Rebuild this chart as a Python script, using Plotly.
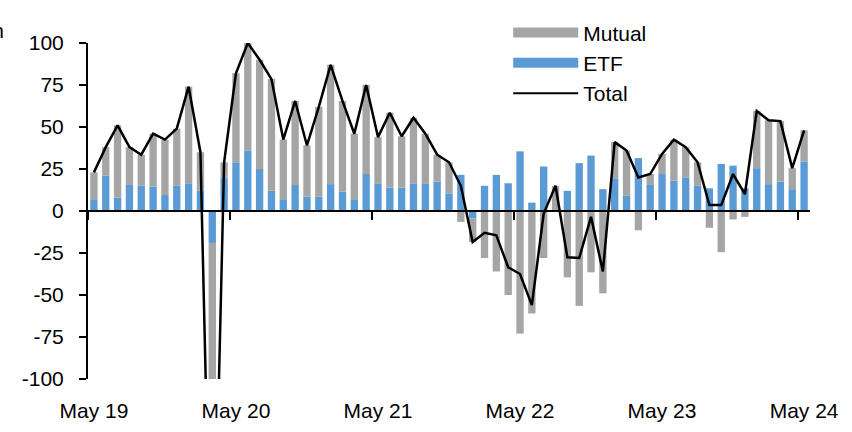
"""
Monthly fund flows: mutual funds vs ETFs, with total line ($bn)
"""

import plotly.graph_objects as go

# ==============================================================================
# DATA ($bn)
# ==============================================================================

months = ['May19', 'Jun19', 'Jul19', 'Aug19', 'Sep19', 'Oct19', 'Nov19', 'Dec19',
          'Jan20', 'Feb20', 'Mar20', 'Apr20', 'May20', 'Jun20', 'Jul20', 'Aug20',
          'Sep20', 'Oct20', 'Nov20', 'Dec20', 'Jan21', 'Feb21', 'Mar21', 'Apr21',
          'May21', 'Jun21', 'Jul21', 'Aug21', 'Sep21', 'Oct21', 'Nov21', 'Dec21',
          'Jan22', 'Feb22', 'Mar22', 'Apr22', 'May22', 'Jun22', 'Jul22', 'Aug22',
          'Sep22', 'Oct22', 'Nov22', 'Dec22', 'Jan23', 'Feb23', 'Mar23', 'Apr23',
          'May23', 'Jun23', 'Jul23', 'Aug23', 'Sep23', 'Oct23', 'Nov23', 'Dec23',
          'Jan24', 'Feb24', 'Mar24', 'Apr24', 'May24']

etf = [7, 21, 8, 15.5, 15, 14.5, 9.5, 15,
       16.5, 12, -19, 20, 29, 36, 25, 12,
       7, 15.5, 8.5, 8.5, 16, 11.5, 7, 22,
       16.5, 14, 14, 16.5, 16.5, 17.5, 10.5, 21.5,
       -4.5, 15, 21.5, 16.5, 35.5, 5, 26.5, 0.5,
       12, 28.5, 33, 13, 19.5, 9, 31.5, 15.5,
       22, 18, 20, 15, 13.5, 28, 27, 13.5,
       25.5, 16, 17.5, 13, 29.5]

mutual = [16, 17, 43, 22.5, 18.5, 31.5, 33, 34,
          57.5, 23, -251, 9, 53, 64, 65, 66.5,
          35.5, 50, 30.5, 53.5, 71, 54, 39, 53,
          27.5, 44.5, 30.5, 39, 29.5, 16, 18.5, -6.5,
          -14, -28, -36, -50, -73, -61, -28, 14.5,
          -39.5, -56.5, -36.5, -49, 21.5, 27, -11.5, 6.5,
          12, 24.5, 18, 14, -10, -24.5, -5, -3.5,
          34, 38, 36, 12.5, 18.5]

total = [23, 38, 51, 38, 33.5, 46, 42.5, 49,
         74, 35, -270, 29, 82, 100, 90, 78.5,
         42.5, 65.5, 39, 62, 87, 65.5, 46, 75,
         44, 58.5, 44.5, 55.5, 46, 33.5, 29, 15,
         -18.5, -13, -14.5, -33.5, -37.5, -56, -1.5, 15,
         -27.5, -28, -3.5, -36, 41, 36, 20, 22,
         34, 42.5, 38, 29, 3.5, 3.5, 22, 10,
         59.5, 54, 53.5, 25.5, 48]

year_labels = ['May 19', 'May 20', 'May 21', 'May 22', 'May 23', 'May 24']
y_ticks = [-100, -75, -50, -25, 0, 25, 50, 75, 100]

GRAY = '#A5A5A5'
BLUE = '#5B9BD5'
FONT = 'Liberation Sans, Arial, sans-serif'

x = list(range(len(months)))
label_pos = [i for i, m in enumerate(months) if m.startswith('May')]
boundary_pos = [p - 0.5 for p in label_pos]
x_range = [-0.5, len(months) - 0.5]

# ==============================================================================
# FIGURE
# ==============================================================================

fig = go.Figure()

fig.add_trace(go.Bar(x=x, y=etf, name='ETF', marker=dict(color=BLUE, line_width=0),
                     showlegend=False))
fig.add_trace(go.Bar(x=x, y=mutual, name='Mutual', marker=dict(color=GRAY, line_width=0),
                     showlegend=False))
fig.add_trace(go.Scatter(x=x, y=total, name='Total', mode='lines',
                         line=dict(color='black', width=2.5),
                         xaxis='x2', showlegend=False))

# legend swatches (wide, like the original)
for name, color, width, rank in [('Mutual', GRAY, 14, 1), ('ETF', BLUE, 14, 2),
                                 ('Total', 'black', 2, 3)]:
    fig.add_trace(go.Scatter(x=[None], y=[None], mode='lines', name=name,
                             line=dict(color=color, width=width), legendrank=rank))

fig.update_layout(
    width=852, height=432,
    margin=dict(l=88, r=42, t=43, b=53, autoexpand=False),
    plot_bgcolor='white', paper_bgcolor='white',
    barmode='relative', bargap=0.38,
    font=dict(family=FONT, size=21, color='black'),
    showlegend=True,
    legend=dict(x=0.582, y=1.091, xanchor='left', yanchor='top',
                traceorder='normal', itemwidth=65, bgcolor='rgba(0,0,0,0)',
                font=dict(size=21)),
    xaxis=dict(range=x_range, tickvals=label_pos, ticktext=year_labels,
               ticks='', showline=False, showgrid=False, zeroline=False,
               automargin=False, ticklabelstandoff=17, tickfont=dict(size=21)),
    xaxis2=dict(range=x_range, overlaying='x', anchor='free', position=0.5,
                showline=True, linecolor='black', linewidth=2,
                ticks='outside', ticklen=8, tickwidth=2, tickcolor='black',
                tickvals=boundary_pos, showticklabels=False,
                showgrid=False, zeroline=False, automargin=False),
    yaxis=dict(range=[-100, 100], tickvals=y_ticks,
               ticktext=[str(v) for v in y_ticks],
               showline=True, linecolor='black', linewidth=2,
               ticks='outside', ticklen=7, tickwidth=2, tickcolor='black',
               showgrid=False, zeroline=False, automargin=False,
               ticklabelstandoff=11),
    annotations=[dict(text='$bn', xref='paper', yref='paper', x=-0.114, y=1.036,
                      xanchor='right', yanchor='middle', showarrow=False,
                      font=dict(size=21, color='black'))],
)

# drop the page's default body margin so the figure sits at the window's corner
fig.write_html('out.html', config={'displayModeBar': False},
               post_script="document.body.style.margin='0';")
print("[OK] chart written to out.html")
